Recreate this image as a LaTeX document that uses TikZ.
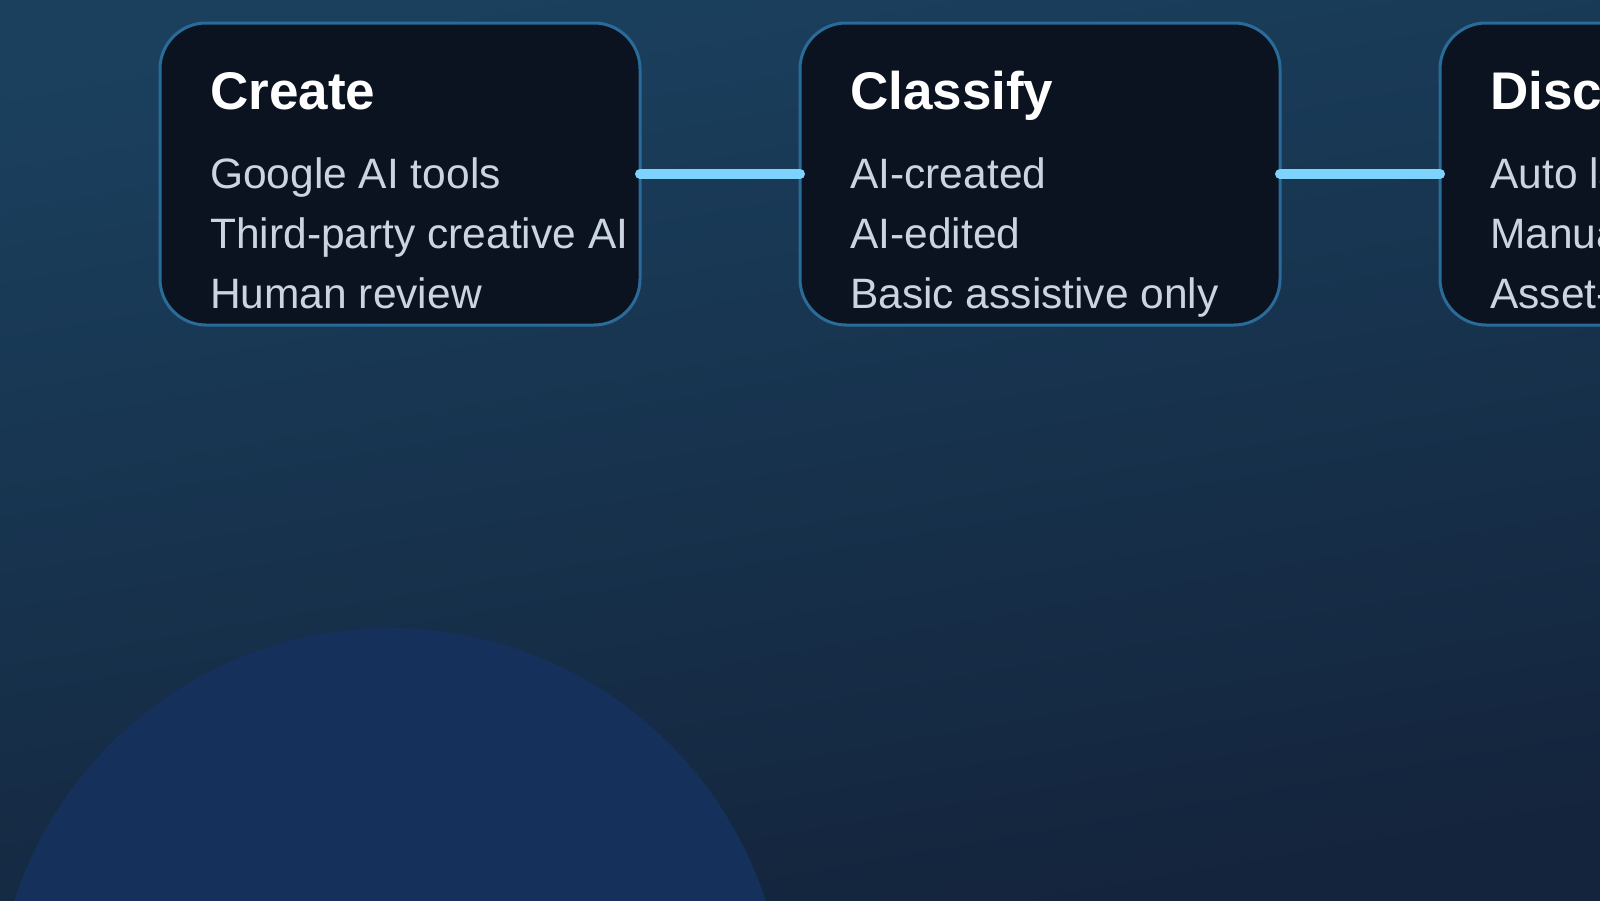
\documentclass[tikz,border=0pt]{standalone}
\usepackage{fontspec}
\setmainfont{Liberation Sans}
\usepackage{tikz}

\definecolor{bgtop}{HTML}{1A405E}
\definecolor{bgbot}{HTML}{14243C}
\definecolor{blob}{HTML}{15305A}
\definecolor{boxfill}{HTML}{0B1220}
\definecolor{boxline}{HTML}{2A6C99}
\definecolor{linkcol}{HTML}{7DD3FC}
\definecolor{itemcol}{HTML}{CBD5E1}

\tikzset{
  stage/.style={draw=boxline, line width=3pt, fill=boxfill, rounded corners=46pt,
    minimum width=480pt, minimum height=302pt, inner sep=0pt},
  head/.style={anchor=base west, inner sep=0pt, text=white,
    font=\fontsize{53}{60}\selectfont\bfseries},
  item/.style={anchor=base west, inner sep=0pt, text=itemcol,
    font=\fontsize{42.5}{50}\selectfont},
  link/.style={draw=linkcol, line width=10pt, line cap=round, shorten <=-1.5pt, shorten >=-1.5pt}
}

\begin{document}
\begin{tikzpicture}[x=1pt,y=-1pt]
\useasboundingbox (0,0) rectangle (1600,900);
\clip (0,0) rectangle (1600,900);
\fill[top color=bgtop, bottom color=bgbot, shading angle=10] (0,0) rectangle (1600,900);
\fill[blob] (390,1023) circle (395);
\foreach \name/\x/\head/\a/\b/\c in {create/400/Create/Google AI tools/Third-party creative AI/Human review,
  classify/1040/Classify/AI-created/AI-edited/Basic assistive only,
  discover/1680/Discover/Auto labels/Manual tags/Asset-level metadata}
{
  \node[stage] (\name) at (\x,174) {};
  \node[head] (\name-head) at (\x-190,109) {\head};
  \node[item] (\name-a) at (\x-190,188) {\a};
  \node[item] (\name-b) at (\x-190,248) {\b};
  \node[item] (\name-c) at (\x-190,308) {\c};
}
\draw[link] (create.east) -- (classify.west);
\draw[link] (classify.east) -- (discover.west);
\end{tikzpicture}
\end{document}
